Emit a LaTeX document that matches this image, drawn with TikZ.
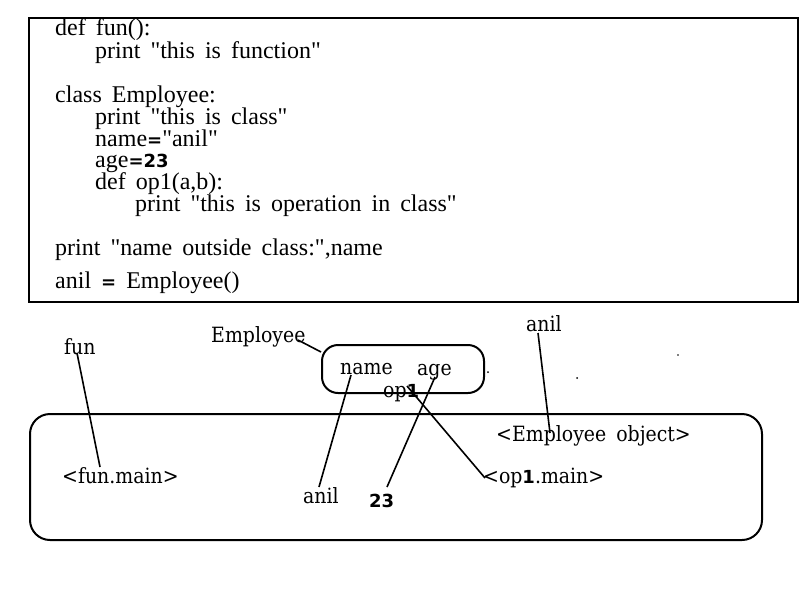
\documentclass[tikz,border=0pt]{standalone}
\usepackage{fontspec}
\newfontfamily\codefont{Liberation Serif}
\newfontfamily\lowfont{DejaVu Serif Condensed}
\newfontfamily\bsans{DejaVu Sans}
\newcommand{\codesetup}{\codefont\fontsize{24}{24}\selectfont\spaceskip=10pt plus 1pt\relax}
\begin{document}
\begin{tikzpicture}[x=1pt,y=-1pt,
  code/.style={anchor=base west,inner sep=0pt,text height=15pt,text depth=4pt,font=\codesetup},
  lbl/.style={anchor=base west,inner sep=0pt,font=\lowfont\fontsize{21}{21}\selectfont},
  frame/.style={draw,line width=2pt},
  conn/.style={draw,line width=1.6pt}]
\newcommand{\bs}[1]{{\bsans\bfseries\fontsize{18}{18}\selectfont #1}}
\useasboundingbox (0,0) rectangle (800,600);
% code box
\node[frame,rectangle,minimum width=769pt,minimum height=284pt,anchor=north west,inner sep=0pt] (codebox) at (28,17) {};
\node[code] (c1) at (55,35) {def fun():};
\node[code] (c2) at (95,58) {print "this is function"};
\node[code] (c3) at (55,102) {class Employee:};
\node[code] (c4) at (95,124) {print "this is class"};
\node[code] (c5) at (95,146) {name\bs{=}"anil"};
\node[code] (c6) at (95,167) {age\bs{=23}};
\node[code] (c7) at (95,189) {def op1(a,b):};
\node[code] (c8) at (135,211) {print "this is operation in class"};
\node[code] (c9) at (55,255) {print "name outside class:",name};
\node[code] (c10) at (55,288) {anil \bs{=} Employee()};
% boxes
\draw[frame,rounded corners=16pt] (322,345) rectangle (484,393);
\draw[frame,rounded corners=20pt] (30,414) rectangle (762,540);
% labels
\node[lbl] (fun) at (64,354) {fun};
\node[lbl] (emp) at (211,342) {Employee};
\node[lbl] (anilt) at (526,331) {anil};
\node[lbl] (name) at (340,374) {name};
\node[lbl] (age) at (417,375) {age};
\node[lbl] (op) at (383,397) {op\bs{1}};
\node[lbl] (funmain) at (62,483) {<fun.main>};
\node[lbl] (empobj) at (496,441) {<Employee\hspace{4pt} object>};
\node[lbl] (opmain) at (483,483) {<op\bs{1}.main>};
\node[lbl] (anilb) at (303,503) {anil};
\node[anchor=base west,inner sep=0pt,font=\bsans\bfseries\fontsize{18}{18}\selectfont] (n23) at (369,507) {23};
% connector ends
\coordinate (a1) at (77,353); \coordinate (a2) at (100,467);
\coordinate (b1) at (298,340); \coordinate (b2) at (321,352);
\coordinate (d1) at (351,375); \coordinate (d2) at (319,487);
\coordinate (e1) at (435,377); \coordinate (e2) at (387,487);
\coordinate (f1) at (407,386); \coordinate (f2) at (485,478);
\coordinate (g1) at (538,333); \coordinate (g2) at (550,433);
\draw[conn] (a1) -- (a2);
\draw[conn] (b1) -- (b2);
\draw[conn] (d1) -- (d2);
\draw[conn] (e1) -- (e2);
\draw[conn] (f1) -- (f2);
\draw[conn] (g1) -- (g2);
% stray dots
\fill (488,372) circle (1pt);
\fill (577,378) circle (1pt);
\fill (678,355) circle (0.8pt);
\end{tikzpicture}
\end{document}
